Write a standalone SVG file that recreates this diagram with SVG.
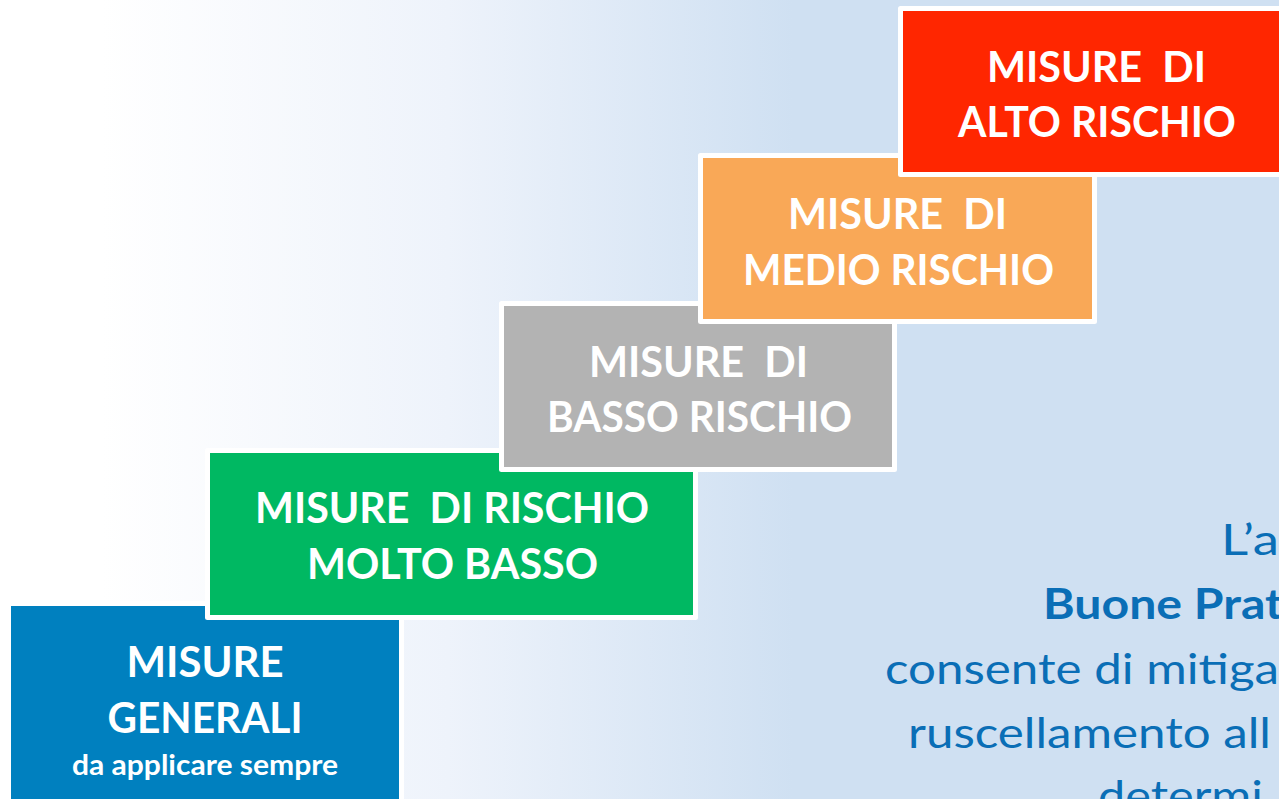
<svg xmlns="http://www.w3.org/2000/svg" width="1279" height="799" viewBox="0 0 1279 799">
  <defs>
    <linearGradient id="bg" x1="0" y1="0" x2="1279" y2="0" gradientUnits="userSpaceOnUse">
      <stop offset="0" stop-color="#FFFFFF"/>
      <stop offset="0.08" stop-color="#FFFFFF"/>
      <stop offset="0.35" stop-color="#EEF3FB"/>
      <stop offset="0.62" stop-color="#CFE0F2"/>
      <stop offset="1" stop-color="#CFE0F2"/>
    </linearGradient>
  </defs>
  <style>
    .box { stroke: #FFFFFF; stroke-width: 5; stroke-linejoin: round; }
    .lbl { font-family: Lato, "Open Sans", "Liberation Sans", sans-serif; font-weight: 700; font-size: 42.5px; fill: #FFFFFF; text-anchor: middle; white-space: pre; }
    .sub { font-size: 28px; }
    .side { font-family: Lato, "Open Sans", "Liberation Sans", sans-serif; font-size: 42.5px; fill: #0A6EB6; white-space: pre; }
    .bold { font-weight: 700; }
  </style>
  <rect x="0" y="0" width="1279" height="799" fill="url(#bg)"/>

  <g id="side-text">
    <text class="side" x="1221" y="555" textLength="58" lengthAdjust="spacingAndGlyphs">L’a</text>
    <text class="side bold" x="1043" y="619" textLength="240" lengthAdjust="spacingAndGlyphs">Buone Prat</text>
    <text class="side" x="885" y="684" textLength="394" lengthAdjust="spacingAndGlyphs">consente di mitiga</text>
    <text class="side" x="908" y="748" textLength="363" lengthAdjust="spacingAndGlyphs">ruscellamento all</text>
    <text class="side" x="1098" y="811" textLength="165" lengthAdjust="spacingAndGlyphs">determi</text>
  </g>

  <g id="misure-generali">
    <rect class="box" x="8.5" y="603.5" width="393" height="230" fill="#0080BF"/>
    <text class="lbl" x="205" y="677" textLength="157" lengthAdjust="spacingAndGlyphs">MISURE</text>
    <text class="lbl" x="205" y="733" textLength="195" lengthAdjust="spacingAndGlyphs">GENERALI</text>
    <text class="lbl sub" x="205" y="775" textLength="266" lengthAdjust="spacingAndGlyphs">da applicare sempre</text>
  </g>

  <g id="rischio-molto-basso">
    <rect class="box" x="207.5" y="450.5" width="488" height="167" fill="#00B862"/>
    <text class="lbl" x="452" y="523" textLength="394" lengthAdjust="spacingAndGlyphs" xml:space="preserve">MISURE  DI RISCHIO</text>
    <text class="lbl" x="452.5" y="579" textLength="291" lengthAdjust="spacingAndGlyphs">MOLTO BASSO</text>
  </g>

  <g id="basso-rischio">
    <rect class="box" x="501.5" y="303.5" width="393" height="166" fill="#B3B3B3"/>
    <text class="lbl" x="698.5" y="377" textLength="219" lengthAdjust="spacingAndGlyphs" xml:space="preserve">MISURE  DI</text>
    <text class="lbl" x="699.5" y="432" textLength="305" lengthAdjust="spacingAndGlyphs">BASSO RISCHIO</text>
  </g>

  <g id="medio-rischio">
    <rect class="box" x="700.5" y="155.5" width="394" height="166" fill="#F9A857"/>
    <text class="lbl" x="897.5" y="229" textLength="219" lengthAdjust="spacingAndGlyphs" xml:space="preserve">MISURE  DI</text>
    <text class="lbl" x="898.5" y="285" textLength="311" lengthAdjust="spacingAndGlyphs">MEDIO RISCHIO</text>
  </g>

  <g id="alto-rischio">
    <rect class="box" x="900.5" y="8.5" width="400" height="166" fill="#FF2600"/>
    <text class="lbl" x="1096.5" y="82" textLength="219" lengthAdjust="spacingAndGlyphs" xml:space="preserve">MISURE  DI</text>
    <text class="lbl" x="1097" y="137" textLength="278" lengthAdjust="spacingAndGlyphs">ALTO RISCHIO</text>
  </g>
</svg>
